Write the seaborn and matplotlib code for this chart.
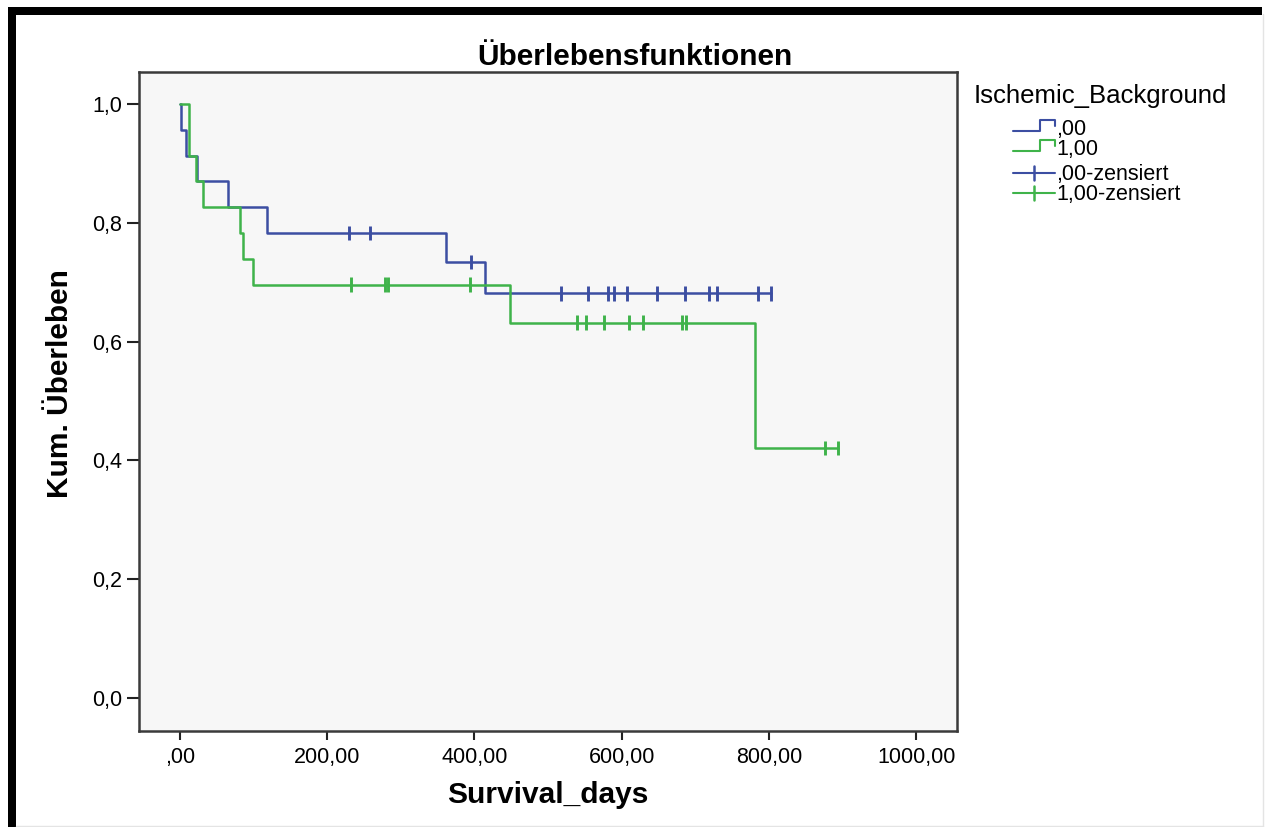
import pandas as pd
import seaborn as sns
import matplotlib.pyplot as plt
from matplotlib.lines import Line2D
from matplotlib.patches import Rectangle

sns.set_style("white")
plt.rcParams['font.family'] = ['Liberation Sans', 'DejaVu Sans']
plt.rcParams['text.color'] = 'black'
plt.rcParams['axes.labelcolor'] = 'black'

# Kaplan-Meier steps (time in days, survival after the step)
steps_00_days = [0, 1.5, 9, 23, 66, 118, 362, 414, 803]
steps_00_surv = [1.0, 0.957, 0.913, 0.870, 0.826, 0.783, 0.734, 0.681, 0.681]
steps_10_days = [0, 12, 22, 31, 82, 86, 100, 449, 781, 894]
steps_10_surv = [1.0, 0.913, 0.870, 0.826, 0.783, 0.739, 0.696, 0.632, 0.421, 0.421]

# censored cases
cens_00_days = [230, 258, 395, 517, 554, 582, 590, 607, 648, 686, 719, 730, 785, 803]
cens_00_surv = [0.783, 0.783, 0.734, 0.681, 0.681, 0.681, 0.681, 0.681, 0.681, 0.681,
                0.681, 0.681, 0.681, 0.681]
cens_10_days = [232, 278, 283, 394, 540, 552, 576, 610, 629, 682, 687, 876, 894]
cens_10_surv = [0.696, 0.696, 0.696, 0.696, 0.632, 0.632, 0.632, 0.632, 0.632, 0.632,
                0.632, 0.421, 0.421]

group_names = [',00', '1,00']
legend_labels = [',00', '1,00', ',00-zensiert', '1,00-zensiert']
x_ticks = [0, 200, 400, 600, 800, 1000]
x_tick_labels = [',00', '200,00', '400,00', '600,00', '800,00', '1000,00']
y_ticks = [0.0, 0.2, 0.4, 0.6, 0.8, 1.0]
y_tick_labels = ['0,0', '0,2', '0,4', '0,6', '0,8', '1,0']

blue = '#3c4ea2'
green = '#3fb34a'
palette = {',00': blue, '1,00': green}

df_steps = pd.concat([
    pd.DataFrame({'days': steps_00_days, 'surv': steps_00_surv, 'group': ',00'}),
    pd.DataFrame({'days': steps_10_days, 'surv': steps_10_surv, 'group': '1,00'}),
])
df_cens = pd.concat([
    pd.DataFrame({'days': cens_00_days, 'surv': cens_00_surv, 'group': ',00'}),
    pd.DataFrame({'days': cens_10_days, 'surv': cens_10_surv, 'group': '1,00'}),
])

W, H = 1269, 827
fig = plt.figure(figsize=(W / 100, H / 100), dpi=100)
fig.patch.set_facecolor('white')
ax = fig.add_axes([139.3 / W, 1 - 731 / H, (956.7 - 139.3) / W, (731 - 71.7) / H])
ax.set_facecolor('#f7f7f7')

sns.lineplot(data=df_steps, x='days', y='surv', hue='group', palette=palette,
             drawstyle='steps-post', estimator=None, sort=False, errorbar=None,
             linewidth=1.8, legend=False, ax=ax)
sns.scatterplot(data=df_cens, x='days', y='surv', hue='group', palette=palette,
                marker='|', s=110, linewidth=2.1, legend=False, zorder=3, ax=ax)

ax.set_xlim(-55, 1055)
ax.set_ylim(-0.0556, 1.0544)
ax.set_xticks(x_ticks)
ax.set_xticklabels(x_tick_labels)
ax.set_yticks(y_ticks)
ax.set_yticklabels(y_tick_labels)
ax.tick_params(axis='x', bottom=True, length=6.5, width=1.5, pad=5, labelsize=15.5,
               color='#222222', labelcolor='black')
ax.tick_params(axis='y', left=True, length=9, width=1.5, pad=3.5, labelsize=15.5,
               color='#222222', labelcolor='black')
for sp in ax.spines.values():
    sp.set_color('#3a3a3a')
    sp.set_linewidth(1.8)

ax.set_xlabel('Survival_days', fontsize=21.5, fontweight='bold', va='baseline')
ax.xaxis.set_label_coords(0.5, (731 - 803) / (731 - 71.7))
ax.set_ylabel('Kum. Überleben', fontsize=21.5, fontweight='bold', va='center')
ax.yaxis.set_label_coords((60 - 139.3) / (956.7 - 139.3), (731 - 384) / (731 - 71.7))

fig.text(0.5, 1 - 65 / H, 'Überlebensfunktionen', fontsize=21.5, fontweight='bold',
         ha='center', va='baseline')


def px(x, y):
    return x / W, 1 - y / H


# legend drawn by hand (SPSS style step glyphs)
fig.text(*px(974, 103), 'Ischemic_Background', fontsize=18.5, ha='left', va='baseline')
base_lines = [135, 155, 180, 200]
for i, (lab, col) in enumerate(zip(legend_labels, [blue, green, blue, green])):
    fig.text(*px(1056, base_lines[i]), lab, fontsize=15.5, ha='left', va='baseline')
    yc = base_lines[i] - 8
    if i < 2:
        xs = [1013, 1040, 1040, 1055, 1055]
        ys = [yc + 4, yc + 4, yc - 7, yc - 7, yc - 1]
        pts = [px(a, b) for a, b in zip(xs, ys)]
        fig.add_artist(Line2D([p[0] for p in pts], [p[1] for p in pts], color=col,
                              linewidth=1.5, transform=fig.transFigure))
    else:
        a, b = px(1013, yc + 1)
        c, d = px(1055, yc + 1)
        fig.add_artist(Line2D([a, c], [b, d], color=col, linewidth=1.5,
                              transform=fig.transFigure))
        e, f = px(1034, yc - 6)
        g, h = px(1034, yc + 8)
        fig.add_artist(Line2D([e, g], [f, h], color=col, linewidth=1.8,
                              transform=fig.transFigure))

# black screenshot frame on the left and top
fig.add_artist(Rectangle((8 / W, 0), 8 / W, 1 - 7 / H, transform=fig.transFigure,
                         color='black', linewidth=0))
fig.add_artist(Rectangle((8 / W, 1 - 14.5 / H), (1262 - 8) / W, 7.5 / H,
                         transform=fig.transFigure, color='black', linewidth=0))
fig.add_artist(Line2D([1263 / W, 1263 / W], [0, 1 - 14 / H], color='#e4e4e4',
                      linewidth=1, transform=fig.transFigure))
fig.add_artist(Line2D([16 / W, 1263 / W], [1.5 / H, 1.5 / H], color='#e4e4e4',
                      linewidth=1, transform=fig.transFigure))

fig.savefig('out.png', dpi=100, facecolor='white')
